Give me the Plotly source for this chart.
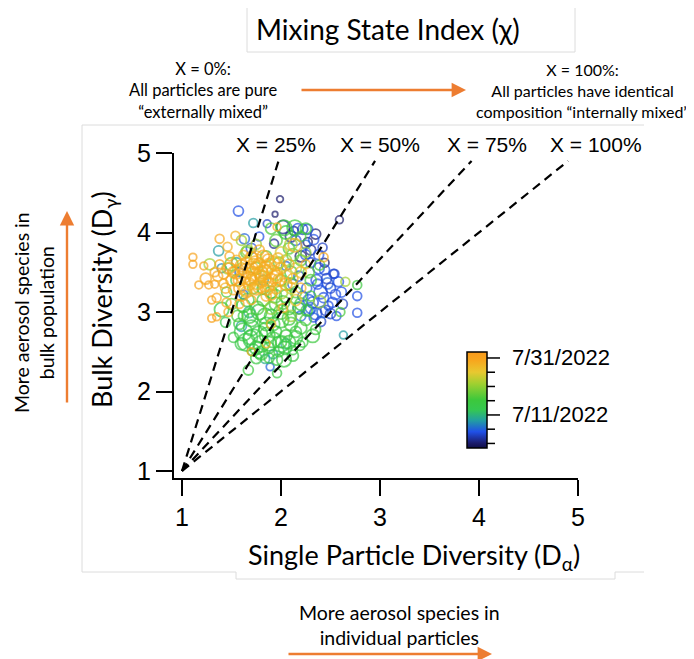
import plotly.graph_objects as go

# ---------------- data ----------------
# days counted from 7/1/2022 (0 = 7/1, 10 = 7/11, 30 = 7/31)
navy_x = [1.99, 1.94, 2.02, 2.59, 2.13, 2.35, 2.10, 2.44, 2.30, 1.93, 2.20, 2.27]
navy_y = [4.42, 4.23, 4.07, 4.16, 4.02, 3.98, 3.95, 3.62, 3.78, 3.86, 3.70, 3.88]
navy_s = [6, 5, 12, 7, 8, 9, 10, 8, 9, 8, 10, 8]
navy_d = [0, 0, 1, 0, 1, 0, 1, 0, 1, 1, 0, 0]

blue_x = [1.57, 1.86, 2.27, 2.22, 2.17, 1.63, 2.33, 2.42, 2.44, 2.53, 2.47, 2.37, 2.77, 2.77,
          2.54, 2.61, 2.40, 2.30, 2.35, 2.45, 2.52, 2.28, 2.43, 2.26, 2.50, 2.33, 2.22, 2.18,
          2.30, 2.38, 2.25, 2.15, 1.89, 1.70, 1.58, 1.62, 1.78, 2.05, 2.56, 2.40, 2.48, 2.20, 2.12,
          2.36, 2.46, 2.55, 2.42, 2.32, 2.50, 2.58, 2.28, 2.38, 2.62, 2.18, 2.25]
blue_y = [4.27, 4.11, 4.04, 4.04, 4.05, 3.92, 3.91, 3.81, 3.53, 3.48, 3.36, 3.35, 3.20, 2.99,
          3.48, 3.25, 3.25, 3.05, 2.98, 3.02, 3.12, 3.15, 3.18, 3.30, 3.30, 2.93, 3.20, 3.45,
          3.62, 3.72, 3.85, 3.90, 2.31, 3.80, 3.50, 3.22, 3.95, 3.58, 2.95, 2.88, 3.08, 2.95, 3.35,
          3.40, 3.42, 3.22, 3.00, 3.12, 2.98, 3.38, 3.02, 3.55, 3.10, 3.05, 3.72]
blue_s = [9, 7, 9, 9, 9, 9, 9, 8, 9, 8, 10, 9, 8, 8,
          8, 9, 12, 10, 11, 9, 9, 10, 9, 9, 9, 8, 9, 9,
          9, 9, 8, 9, 7, 9, 8, 8, 8, 8, 8, 9, 8, 9, 9,
          10, 9, 9, 10, 10, 9, 9, 10, 10, 9, 10, 9]
blue_d = [4, 3, 4, 3, 4, 5, 4, 3, 4, 4, 5, 4, 4, 4,
          3, 4, 4, 5, 4, 3, 4, 5, 4, 4, 3, 4, 5, 4,
          3, 4, 5, 4, 5, 4, 5, 5, 4, 5, 4, 3, 4, 5, 5,
          4, 3, 4, 5, 4, 3, 4, 5, 4, 3, 5, 4]

teal_x = [1.72, 1.37, 2.63, 1.84, 1.92, 1.55, 1.68, 1.60, 2.05, 1.82, 1.40]
teal_y = [4.12, 3.77, 2.71, 2.41, 2.47, 3.62, 3.00, 2.82, 2.60, 3.40, 3.55]
teal_s = [8, 9, 7, 8, 8, 9, 10, 9, 9, 9, 8]
teal_d = [8, 8, 8, 9, 8, 8, 9, 8, 9, 8, 7]

green_x = [2.03, 1.40, 1.44, 1.58, 1.65, 1.72, 1.80, 1.86, 1.75, 1.69, 1.75, 1.67, 1.96, 2.03,
           2.32, 2.19, 2.77, 2.39, 2.14, 1.55, 1.62, 1.78, 1.90, 2.00, 2.10, 1.95, 2.05, 2.15,
           1.85, 1.70, 1.82, 1.95, 2.08, 2.20, 2.15, 2.05, 1.90, 2.25, 2.22, 1.88, 1.98, 2.12,
           1.60, 1.52, 2.00, 2.10, 2.20, 2.08, 1.95, 2.20, 2.25, 1.85, 1.75, 1.65, 2.30, 1.50,
           1.45, 2.05, 1.90, 2.12, 2.30, 1.72, 1.88, 2.35, 2.60, 2.28, 1.98, 1.78, 2.00, 1.62,
           1.62, 1.70, 1.78, 1.85, 1.92, 2.00, 2.08, 2.15, 1.68, 1.76, 1.84, 1.92, 2.00, 2.08,
           1.72, 1.80, 1.88, 1.96, 2.04, 2.12, 2.20, 1.66, 1.94, 2.02, 2.18, 1.56, 1.50, 2.26,
           2.10, 1.82]
green_y = [4.06, 3.03, 2.87, 2.85, 2.62, 2.66, 2.60, 2.71, 2.55, 2.68, 2.42, 2.27, 2.23, 2.40,
           2.70, 2.58, 3.34, 3.59, 4.06, 3.40, 3.08, 3.00, 2.95, 2.90, 2.85, 2.75, 2.70, 2.75,
           2.85, 2.90, 3.15, 3.10, 3.05, 3.10, 3.25, 3.20, 3.25, 2.90, 2.62, 2.55, 2.50, 2.52,
           2.60, 2.68, 3.40, 3.50, 3.65, 3.80, 3.90, 3.95, 4.05, 3.70, 3.55, 3.75, 3.40, 3.60,
           3.25, 4.00, 4.05, 3.72, 3.20, 3.30, 2.42, 2.78, 3.00, 3.50, 3.62, 2.48, 2.62, 2.95,
           2.75, 2.80, 2.72, 2.78, 2.65, 2.60, 2.62, 2.68, 2.95, 3.05, 2.95, 2.85, 3.00, 2.92,
           2.52, 2.48, 2.60, 2.40, 2.55, 2.45, 2.80, 3.15, 3.20, 3.12, 3.05, 2.95, 3.10, 3.02,
           3.35, 3.30]
green_s = [14, 13, 9, 10, 16, 18, 15, 14, 12, 13, 10, 9, 8, 13,
           12, 9, 8, 9, 14, 10, 12, 14, 12, 14, 12, 10, 11, 10,
           12, 12, 11, 12, 12, 11, 10, 12, 11, 10, 9, 10, 9, 8,
           11, 9, 10, 11, 10, 10, 11, 9, 10, 10, 11, 10, 10, 12,
           9, 12, 10, 11, 9, 10, 9, 9, 8, 10, 10, 9, 10, 9,
           16, 14, 15, 13, 14, 15, 12, 12, 13, 12, 14, 12, 13, 12,
           11, 12, 13, 10, 12, 10, 11, 12, 12, 12, 11, 10, 10, 10,
           11, 11]
green_d = [15, 14, 13, 14, 14, 13, 14, 15, 14, 13, 14, 15, 14, 14,
           15, 14, 15, 16, 15, 16, 14, 15, 14, 15, 16, 14, 15, 14,
           15, 14, 16, 15, 16, 15, 17, 16, 15, 16, 14, 14, 15, 14,
           13, 14, 17, 16, 17, 16, 17, 16, 15, 17, 16, 17, 16, 17,
           16, 15, 16, 17, 16, 17, 14, 15, 16, 17, 17, 14, 15, 14,
           14, 13, 14, 15, 14, 13, 15, 14, 15, 16, 15, 14, 16, 15,
           13, 14, 15, 14, 13, 14, 15, 16, 17, 16, 15, 16, 17, 15,
           17, 16]

ygreen_x = [1.28, 2.65, 2.39, 1.66, 1.46, 2.10, 2.05, 1.80, 2.00, 1.90, 2.15, 1.75, 2.25, 1.60, 2.10, 1.95]
ygreen_y = [3.60, 3.38, 3.13, 3.77, 3.55, 3.85, 3.65, 3.45, 3.25, 3.05, 3.55, 3.85, 3.75, 3.90, 2.95, 3.48]
ygreen_s = [10, 8, 11, 10, 10, 11, 10, 10, 12, 11, 10, 9, 9, 9, 10, 12]
ygreen_d = [21, 21, 21, 20, 21, 22, 20, 21, 21, 20, 22, 21, 20, 21, 20, 22]

yellow_x = [1.80, 1.95, 2.05, 1.70, 1.88, 2.10, 1.60, 2.20, 1.75, 2.00, 1.65, 2.15]
yellow_y = [3.50, 3.60, 3.45, 3.40, 3.35, 3.30, 3.55, 3.50, 3.70, 3.75, 3.25, 3.15]
yellow_s = [12, 12, 11, 11, 12, 10, 10, 10, 10, 10, 10, 10]
yellow_d = [25, 24, 25, 26, 25, 24, 25, 26, 25, 24, 25, 26]

orange_x = [1.96, 1.38, 1.54, 1.46, 1.11, 1.11, 1.17, 1.24, 1.30, 1.35, 1.30, 1.35, 2.43, 2.14,
            1.42, 1.33, 1.27, 1.50, 1.55, 1.62, 1.70, 1.78, 1.85, 1.92, 1.68, 1.75, 1.82, 1.90,
            2.00, 2.05, 1.58, 1.65, 1.72, 1.80, 1.60, 1.55, 1.48, 1.95, 2.08, 1.85, 1.70, 1.42,
            1.52, 2.12, 1.87, 1.62, 1.78, 1.97, 1.38, 1.45, 1.90, 2.02, 2.20, 1.70, 1.85, 1.47,
            2.25, 1.58, 1.33, 1.22,
            1.65, 1.72, 1.80, 1.88, 1.95, 1.68, 1.76, 1.84, 1.92, 1.60, 1.70, 1.78, 1.86, 1.58,
            1.74, 1.82, 1.64, 1.90, 1.48, 1.36, 1.44, 1.52, 1.98, 1.75]
orange_y = [4.07, 3.92, 3.96, 3.82, 3.69, 3.60, 3.34, 3.42, 3.15, 3.18, 2.92, 2.94, 3.69, 3.84,
            3.36, 3.35, 3.34, 3.40, 3.50, 3.45, 3.55, 3.60, 3.55, 3.50, 3.35, 3.30, 3.42, 3.40,
            3.55, 3.35, 3.30, 3.62, 3.48, 3.38, 3.20, 3.65, 3.70, 3.30, 3.60, 3.20, 3.15, 3.48,
            3.28, 3.42, 3.66, 3.72, 3.78, 3.68, 3.60, 3.12, 2.85, 3.05, 3.30, 2.50, 2.60, 3.00,
            3.60, 3.10, 3.50, 3.58,
            3.52, 3.58, 3.48, 3.58, 3.45, 3.42, 3.38, 3.50, 3.62, 3.58, 3.68, 3.32, 3.30, 3.40,
            3.62, 3.70, 3.28, 3.22, 3.55, 3.45, 3.30, 3.50, 3.40, 3.45]
orange_s = [7, 8, 8, 8, 7, 7, 7, 10, 7, 8, 7, 7, 8, 12,
            8, 7, 7, 10, 12, 13, 12, 11, 13, 12, 11, 12, 14, 12,
            10, 11, 10, 10, 13, 10, 9, 9, 8, 10, 9, 9, 8, 9,
            9, 9, 10, 8, 9, 9, 8, 8, 8, 8, 9, 7, 7, 8,
            8, 8, 8, 7,
            13, 13, 13, 13, 12, 12, 14, 13, 12, 11, 11, 12, 12, 11,
            12, 11, 11, 10, 10, 9, 9, 10, 11, 15]
orange_d = [29, 29, 28, 28, 30, 30, 30, 29, 30, 29, 30, 30, 29, 28,
            29, 30, 30, 29, 28, 29, 28, 29, 28, 29, 28, 29, 28, 29,
            28, 29, 30, 28, 29, 28, 29, 28, 29, 28, 29, 28, 29, 30,
            29, 28, 29, 28, 29, 28, 30, 29, 28, 29, 28, 29, 28, 29,
            28, 29, 30, 30,
            29, 28, 29, 28, 29, 30, 28, 29, 28, 29, 30, 28, 29, 30,
            28, 29, 28, 29, 30, 29, 28, 30, 29, 28]

chi_levels = [0.25, 0.50, 0.75, 1.00]
chi_labels = ["X = 25%", "X = 50%", "X = 75%", "X = 100%"]
axis_ticks = [1, 2, 3, 4, 5]
cbar_vals = [10, 30]
cbar_text = ["7/11/2022", "7/31/2022"]
cbar_minor = [0, 5, 15, 20, 25]

# ---------------- geometry helpers (screen pixels; page body has an 8px margin) ----------------
OFF = 8
W, H = 694 - OFF, 659 - OFF
L, R, T, B = 174, 578, 153, 478   # plot area in screen pixels
CB_L, CB_R, CB_T, CB_B = 467, 487, 352, 448  # colorbar box in screen pixels
CMIN, CMAX = -1.6, 32.1


def px(x):
    return (x - L) / (R - L)


def py(y):
    return (B - y) / (B - T)


def cb_y(day):
    return CB_B - (day - CMIN) / (CMAX - CMIN) * (CB_B - CB_T)


ORANGE = "#ED7D31"
FRAME = "#dcdcdc"
CAL = "Lato, 'Open Sans', sans-serif"
ARIAL = "'Liberation Sans', Arial, sans-serif"

colorscale = [
    [0.0, "#0e0e48"], [0.05, "#1b1b6b"], [0.17, "#2050e8"], [0.29, "#22a0a0"],
    [0.40, "#35c850"], [0.50, "#3cc83c"], [0.67, "#a0d030"], [0.79, "#e8c830"],
    [0.91, "#f7a71e"], [1.0, "#f89a1c"],
]

fig = go.Figure()

groups = [
    (navy_x, navy_y, navy_s, navy_d),
    (blue_x, blue_y, blue_s, blue_d),
    (teal_x, teal_y, teal_s, teal_d),
    (green_x, green_y, green_s, green_d),
    (ygreen_x, ygreen_y, ygreen_s, ygreen_d),
    (yellow_x, yellow_y, yellow_s, yellow_d),
    (orange_x, orange_y, orange_s, orange_d),
]
for gx, gy, gs, gd in groups:
    fig.add_trace(go.Scatter(
        x=gx, y=gy, mode="markers", showlegend=False, hoverinfo="skip",
        marker=dict(symbol="circle-open", size=[s * 1.1 for s in gs], color=gd,
                    coloraxis="coloraxis", line=dict(width=1.8)),
    ))

# mixing-state reference lines: Da - 1 = chi * (Dg - 1)
ytop = 4.9
for c in chi_levels:
    fig.add_trace(go.Scatter(
        x=[1, 1 + c * (ytop - 1)], y=[1, ytop], mode="lines", showlegend=False,
        hoverinfo="skip", line=dict(color="black", width=2.2, dash="9px,6px"),
    ))

fig.update_layout(
    width=W, height=H, autosize=False,
    margin=dict(l=L - OFF, r=W - (R - OFF), t=T - OFF, b=H - (B - OFF), pad=0),
    paper_bgcolor="white", plot_bgcolor="white",
    xaxis=dict(range=[1 - 8 / 98.9, 5], tickvals=axis_ticks, showgrid=False, zeroline=False,
               showline=True, linecolor="black", linewidth=2, ticks="outside",
               ticklen=16, tickwidth=2, tickcolor="black",
               tickfont=dict(family=ARIAL, size=25, color="black")),
    yaxis=dict(range=[1 - 7 / 79.5, 5], tickvals=axis_ticks, showgrid=False, zeroline=False,
               showline=True, linecolor="black", linewidth=2, ticks="outside",
               ticklen=16, tickwidth=2, tickcolor="black",
               tickfont=dict(family=ARIAL, size=25, color="black")),
    coloraxis=dict(
        colorscale=colorscale, cmin=CMIN, cmax=CMAX,
        colorbar=dict(
            x=px(CB_L), xanchor="left", y=py(CB_T), yanchor="top",
            thickness=CB_R - CB_L, thicknessmode="pixels", len=CB_B - CB_T, lenmode="pixels",
            xpad=0, ypad=0, outlinewidth=1.5, outlinecolor="black",
            ticks="", showticklabels=False,
        ),
    ),
)

shapes = []
# colorbar ticks (major long, minor short)
for d in cbar_vals + cbar_minor:
    yy = cb_y(d)
    tl = 13 if d in cbar_vals else 8
    shapes.append(dict(type="line", xref="paper", yref="paper", x0=px(CB_R), x1=px(CB_R + tl),
                       y0=py(yy), y1=py(yy), line=dict(color="black", width=1.5)))
# title box
shapes.append(dict(type="rect", xref="paper", yref="paper", x0=px(247), x1=px(575),
                   y0=py(52), y1=py(5), line=dict(color=FRAME, width=1)))
# faint frame lines of the composite
for (x0, y0, x1, y1) in [(82, 125, 644, 125), (82, 125, 82, 572),
                         (82, 572, 236, 572), (236, 572, 236, 579), (236, 579, 615, 579),
                         (615, 579, 615, 572), (615, 572, 644, 572)]:
    shapes.append(dict(type="line", xref="paper", yref="paper", x0=px(x0), x1=px(x1),
                       y0=py(y0), y1=py(y1), line=dict(color=FRAME, width=1)))
fig.update_layout(shapes=shapes)

ann = []
# colorbar labels
for d, t in zip(cbar_vals, cbar_text):
    ann.append(dict(text=t, x=px(510), y=py(cb_y(d)), xref="paper", yref="paper",
                    showarrow=False, xanchor="left", yanchor="middle",
                    font=dict(family=ARIAL, size=22, color="black")))
# chi labels
for lab, cx in zip(chi_labels, [276, 380, 487, 596]):
    ann.append(dict(text=lab, x=px(cx), y=py(145), xref="paper", yref="paper",
                    showarrow=False, xanchor="center", yanchor="middle",
                    font=dict(family=ARIAL, size=21, color="black")))
# axis titles
ann.append(dict(text="Single Particle Diversity (D<sub>α</sub>)", x=px(414), y=py(556),
                xref="paper", yref="paper", showarrow=False, xanchor="center",
                yanchor="middle", font=dict(family=CAL, size=27, color="black")))
ann.append(dict(text="Bulk Diversity (D<sub>γ</sub>)", x=px(103), y=py(300),
                xref="paper", yref="paper", showarrow=False, xanchor="center",
                yanchor="middle", textangle=-90, font=dict(family=CAL, size=27, color="black")))
# top title
ann.append(dict(text="Mixing State Index (χ)", x=px(388), y=py(29), xref="paper", yref="paper",
                showarrow=False, xanchor="center", yanchor="middle",
                font=dict(family=CAL, size=28, color="black")))
# explanation texts
ann.append(dict(text="X = 0%:<br>All particles are pure<br>“externally mixed”",
                x=px(203), y=py(90), xref="paper", yref="paper", showarrow=False,
                xanchor="center", yanchor="middle", align="center",
                font=dict(family=CAL, size=16.5, color="black")))
ann.append(dict(text="X = 100%:<br>All particles have identical<br>composition “internally mixed”",
                x=px(582), y=py(90), xref="paper", yref="paper", showarrow=False,
                xanchor="center", yanchor="middle", align="center",
                font=dict(family=CAL, size=16, color="black")))
ann.append(dict(text="More aerosol species in<br>bulk population",
                x=px(34), y=py(313), xref="paper", yref="paper", showarrow=False,
                xanchor="center", yanchor="middle", align="center", textangle=-90,
                font=dict(family=CAL, size=19.5, color="black")))
ann.append(dict(text="More aerosol species in<br>individual particles",
                x=px(399), y=py(625), xref="paper", yref="paper", showarrow=False,
                xanchor="center", yanchor="middle", align="center",
                font=dict(family=CAL, size=19.5, color="black")))
# orange arrows (tail offsets in pixels)
for (x0, y0, x1, y1) in [(300, 90, 466, 90), (67, 404, 67, 211), (287, 654, 492, 654)]:
    ann.append(dict(x=px(x1), y=py(y1), ax=x0 - x1, ay=y0 - y1, xref="paper", yref="paper",
                    axref="pixel", ayref="pixel", text="", showarrow=True, arrowhead=2,
                    arrowsize=1.2, arrowwidth=2.4, arrowcolor=ORANGE))
fig.update_layout(annotations=ann)

fig.write_html("out.html")
